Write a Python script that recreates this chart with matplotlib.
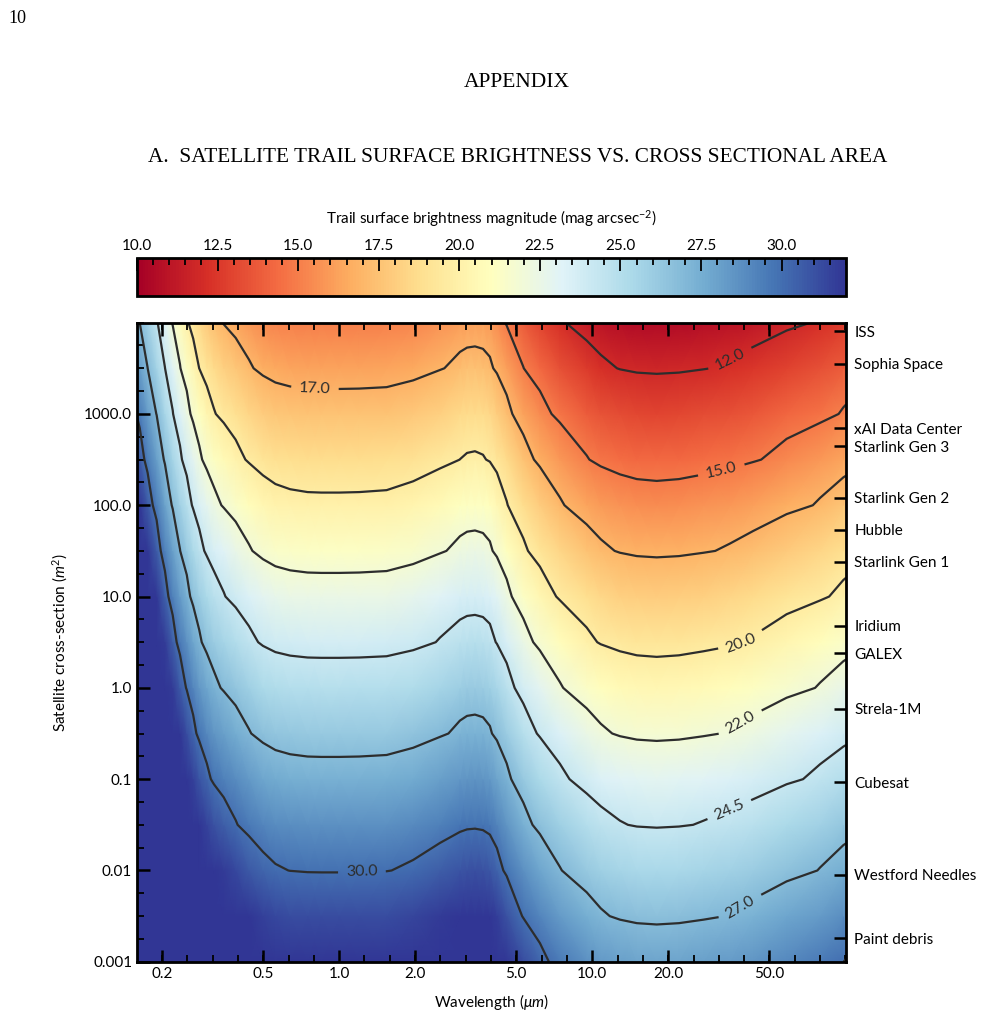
import numpy as np
import matplotlib.pyplot as plt
from matplotlib.ticker import FixedLocator, FixedFormatter, MultipleLocator, NullFormatter

plt.rcParams['font.family'] = ['Lato', 'DejaVu Sans']
plt.rcParams['mathtext.fontset'] = 'custom'
plt.rcParams['mathtext.rm'] = 'Lato'
plt.rcParams['mathtext.it'] = 'Lato:italic'

# wavelength samples (micron) and trail surface brightness for a 1 m^2 cross-section
wavelength_um = [0.159, 0.163, 0.175, 0.19, 0.205, 0.22, 0.235, 0.25, 0.265, 0.28,
                 0.30, 0.32, 0.35, 0.39, 0.44, 0.50, 0.56, 0.64, 0.75, 0.85, 1.0,
                 1.2, 1.54, 1.96, 2.5, 3.0, 3.2, 3.44, 3.7, 3.94, 4.2, 4.59, 5.34,
                 6.21, 7.45, 9.5, 10.8, 12.87, 15.0, 17.97, 22.0, 27.5, 35.0, 43.3,
                 58.6, 79.4, 98.2, 100.6]
mag_at_1m2 = [37.3, 36.9, 35.7, 34.4, 33.0, 31.8, 30.75, 29.9, 29.1, 28.45,
              27.8, 27.3, 26.85, 26.35, 25.83, 25.38, 25.14, 25.02, 24.96, 24.95, 24.95,
              24.96, 25.0, 25.21, 25.61, 25.98, 26.08, 26.11, 26.05, 25.88, 25.47, 24.8, 23.71,
              22.9, 22.09, 21.27, 20.92, 20.64, 20.5, 20.45, 20.5, 20.64, 20.84, 21.1,
              21.6, 22.08, 22.55, 22.6]
mag_per_decade = 2.482

# log10 of cross-section rows (m^2)
log_area_rows = [-3.0, -2.5, -2.0, -1.5, -1.0, -0.5, 0.0, 0.5, 1.0, 1.5, 2.0, 2.5, 3.0, 3.5, 4.0]

# contour levels and their printed labels
contour_levels = [12.0, 15.0, 17.0, 19.77, 22.0, 24.3, 27.0, 30.0]
contour_text = ['12.0', '15.0', '17.0', '20.0', '22.0', '24.5', '27.0', '30.0']
label_spots = [(36.0, 3400), (32.5, 215), (0.8, 1550), (37.7, 4.0),
               (37.3, 0.47), (34.4, 0.049), (37.7, 0.0042), (1.23, 0.0091)]

# satellites on the right axis (cross-section, m^2)
sat_names = ['ISS', 'Sophia Space', 'xAI Data Center', 'Starlink Gen 3', 'Starlink Gen 2',
             'Hubble', 'Starlink Gen 1', 'Iridium', 'GALEX', 'Strela-1M', 'Cubesat',
             'Westford Needles', 'Paint debris']
sat_area = [8000, 3550, 700, 440, 121, 54, 24, 4.8, 2.4, 0.59, 0.092, 0.009, 0.0018]

x_ticks = [0.2, 0.5, 1.0, 2.0, 5.0, 10.0, 20.0, 50.0]
x_ticklabels = ['0.2', '0.5', '1.0', '2.0', '5.0', '10.0', '20.0', '50.0']
y_ticks = [0.001, 0.01, 0.1, 1.0, 10.0, 100.0, 1000.0]
y_ticklabels = ['0.001', '0.01', '0.1', '1.0', '10.0', '100.0', '1000.0']

lam = np.array(wavelength_um)
area = 10 ** np.array(log_area_rows)
mag = np.array(mag_at_1m2)[None, :] - mag_per_decade * np.array(log_area_rows)[:, None]

fig = plt.figure(figsize=(9.93, 10.21), dpi=100)

# page header
fig.text(0.008, 0.982, '10', fontsize=13, family='Liberation Serif', va='center')
fig.text(0.52, 0.919, 'APPENDIX', fontsize=15.5, family='Liberation Serif', ha='center', va='center')
fig.text(0.521, 0.846, 'A.  SATELLITE TRAIL SURFACE BRIGHTNESS VS. CROSS SECTIONAL AREA',
         fontsize=15.3, family='Liberation Serif', ha='center', va='center')

ax = fig.add_axes([0.138, 0.058, 0.714, 0.626])
cax = fig.add_axes([0.138, 0.710, 0.714, 0.0375])

mesh = ax.pcolormesh(lam, area, mag, cmap='RdYlBu', vmin=10, vmax=32, shading='gouraud')
ax.set_xscale('log')
ax.set_yscale('log')
ax.set_xlim(0.159, 100.6)
ax.set_ylim(1e-3, 1e4)

cs = ax.contour(lam, area, mag, levels=contour_levels, colors='#2d2d2d', linewidths=1.6)
ax.clabel(cs, fmt=dict(zip(contour_levels, contour_text)), manual=label_spots,
          inline=True, inline_spacing=8, fontsize=11.5)

ax.xaxis.set_major_locator(FixedLocator(x_ticks))
ax.xaxis.set_major_formatter(FixedFormatter(x_ticklabels))
ax.xaxis.set_minor_locator(FixedLocator(10 ** (np.arange(-8, 21) * 0.1)))
ax.xaxis.set_minor_formatter(NullFormatter())
ax.yaxis.set_major_locator(FixedLocator(y_ticks))
ax.yaxis.set_major_formatter(FixedFormatter(y_ticklabels))
ax.yaxis.set_minor_locator(FixedLocator(10 ** (np.arange(-12, 17) * 0.25)))
ax.yaxis.set_minor_formatter(NullFormatter())
ax.tick_params(which='both', direction='in', top=True, right=True, labelsize=11, width=1.3)
ax.tick_params(which='major', length=9, width=1.8)
ax.tick_params(which='minor', length=5)
for sp in ax.spines.values():
    sp.set_linewidth(2)

ax.set_xlabel(r'Wavelength ($\mu m$)', fontsize=11, labelpad=8)
ax.set_ylabel(r'Satellite cross-section ($m^2$)', fontsize=11, labelpad=10)

# satellite names on the right
ax2 = ax.twinx()
ax2.set_yscale('log')
ax2.set_ylim(ax.get_ylim())
ax2.yaxis.set_major_locator(FixedLocator(sat_area))
ax2.yaxis.set_major_formatter(FixedFormatter(sat_names))
ax2.yaxis.set_minor_formatter(NullFormatter())
ax2.yaxis.set_minor_locator(FixedLocator([]))
ax2.tick_params(axis='y', direction='in', length=9, width=1.8, labelsize=11, pad=6)

# colorbar
cb = fig.colorbar(mesh, cax=cax, orientation='horizontal')
cax.xaxis.set_ticks_position('top')
cax.xaxis.set_label_position('top')
cb.set_ticks([10.0, 12.5, 15.0, 17.5, 20.0, 22.5, 25.0, 27.5, 30.0])
cb.set_ticklabels(['10.0', '12.5', '15.0', '17.5', '20.0', '22.5', '25.0', '27.5', '30.0'])
cax.xaxis.set_minor_locator(MultipleLocator(0.5))
cax.tick_params(which='both', direction='in', labelsize=11, width=1.3)
cax.tick_params(which='major', length=9)
cax.tick_params(which='minor', length=5)
cb.outline.set_linewidth(2)
cb.set_label(r'Trail surface brightness magnitude (mag arcsec$^{-2}$)', fontsize=11, labelpad=11)

fig.savefig('out.png', dpi=100)
